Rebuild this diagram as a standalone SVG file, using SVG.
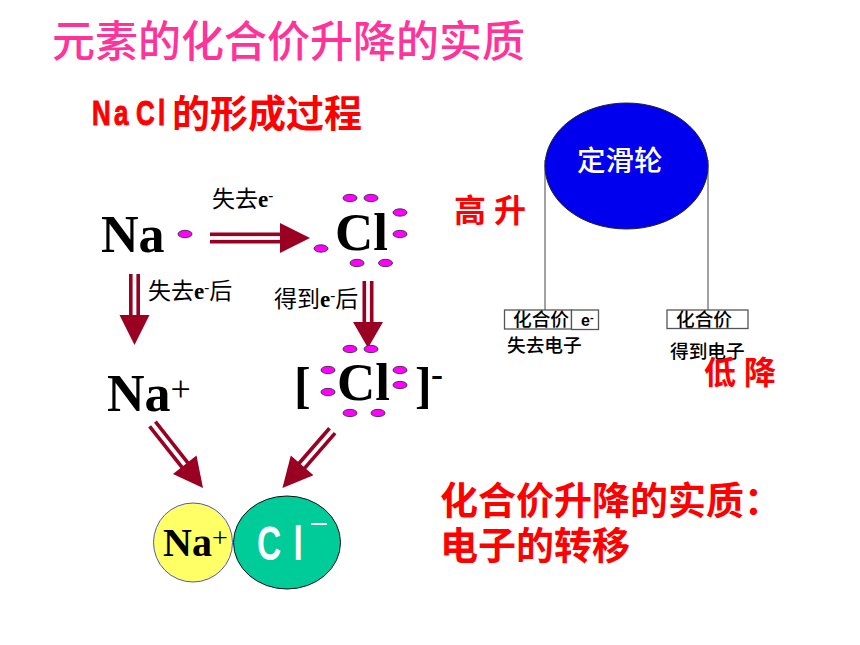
<svg xmlns="http://www.w3.org/2000/svg" width="860" height="645" viewBox="0 0 860 645">
<defs>
<ellipse id="d" rx="7" ry="3.7" fill="#ff00ff" stroke="#222" stroke-width="0.8"/>
</defs>
<style>
.cjk{font-family:"Noto Sans CJK SC","Liberation Sans",sans-serif}
.t{font-family:"Liberation Serif","Noto Sans CJK SC",serif;font-weight:700;fill:#000}
.r{font-family:"Noto Sans CJK SC",sans-serif;font-weight:700;fill:#ff0000}
.s{font-family:"Noto Sans CJK SC",serif;font-size:23px;fill:#000}
.b{font-family:"Noto Sans CJK SC",sans-serif;font-size:18.7px;font-weight:500;fill:#000}
.box{fill:#fff;stroke:#555;stroke-width:1.3}
.l{stroke:#444;stroke-width:1;fill:none}
.a{fill:#990022}
</style>
<rect width="860" height="645" fill="#fff"/>
<text x="52" y="57" class="cjk" font-size="43" font-weight="500" fill="#ff3399">元素的化合价升降的实质</text>
<text transform="translate(92,124.500) scale(0.72,1)" x="0 30.500 61 91.700" font-family="Liberation Sans,sans-serif" font-size="36" font-weight="700" fill="#ff0000" stroke="#ff0000" stroke-width="1">NaCl</text>
<text x="172" y="127" class="r" font-size="38">的形成过程</text>

<g id="connectors">
<g class="a" transform="translate(210,238)"><rect y="-5.500" width="72" height="3.600"/><rect y="1.900" width="72" height="3.600"/><polygon points="70,-15 100,0 70,15"/></g>
<g class="a" transform="translate(134.500,274) rotate(90)"><rect y="-5.500" width="43" height="3.600"/><rect y="1.900" width="43" height="3.600"/><polygon points="41,-15 71,0 41,15"/></g>
<g class="a" transform="translate(368,281) rotate(90)"><rect y="-5.500" width="43" height="3.600"/><rect y="1.900" width="43" height="3.600"/><polygon points="41,-15 67,0 41,15"/></g>
<g class="a" transform="translate(152.500,424) rotate(51.700)"><rect y="-5.500" width="54" height="3.600"/><rect y="1.900" width="54" height="3.600"/><polygon points="52,-15 81.500,0 52,15"/></g>
<g class="a" transform="translate(332.300,430.700) rotate(131)"><rect y="-5.500" width="48" height="3.600"/><rect y="1.900" width="48" height="3.600"/><polygon points="46,-15 76,0 46,15"/></g>
<path class="l" d="M545 160V310M708 160V310"/>
</g>

<g id="na"><text x="101" y="252" class="t" font-size="52">Na</text><use href="#d" x="185" y="234"/></g>
<g id="label-lose"><text x="212" y="207" class="s">失去<tspan class="t" font-size="23">e</tspan><tspan class="t" font-size="15" dy="-7">-</tspan></text></g>
<g id="cl"><text x="335" y="250" class="t" font-size="53">Cl</text>
<use href="#d" x="350" y="198"/><use href="#d" x="371" y="198"/><use href="#d" x="400" y="212.500"/><use href="#d" x="400" y="234"/><use href="#d" x="321" y="248.500"/><use href="#d" x="357" y="263"/><use href="#d" x="385.500" y="263"/></g>
<g id="label-lose2"><text x="148" y="299" class="s">失去<tspan class="t" font-size="23">e</tspan><tspan class="t" font-size="15" dy="-7">-</tspan><tspan dy="7">后</tspan></text></g>
<g id="label-gain"><text x="274" y="307" class="s">得到<tspan class="t" font-size="23">e</tspan><tspan class="t" font-size="15" dy="-7">-</tspan><tspan dy="7">后</tspan></text></g>
<g id="na-plus"><text x="107" y="411" class="t" font-size="52">Na<tspan font-weight="400" font-size="36" dy="-10">+</tspan></text></g>
<g id="cl-minus"><text x="294" y="402" class="t" font-size="50">[</text><text x="337" y="400" class="t" font-size="53">Cl</text><text x="415" y="402" class="t" font-size="50">]</text><text x="431" y="386" class="t" font-size="36">-</text>
<use href="#d" x="350" y="349"/><use href="#d" x="371" y="349"/><use href="#d" x="328" y="370"/><use href="#d" x="328" y="392"/><use href="#d" x="400" y="370"/><use href="#d" x="400" y="385"/><use href="#d" x="350" y="413"/><use href="#d" x="378" y="413"/></g>
<g id="ion-na"><circle cx="193" cy="542.500" r="39.500" fill="#ffff66" stroke="#5555bb" stroke-width="1"/><text x="163" y="556" class="t" font-size="40">Na<tspan font-weight="400" font-size="28" dy="-9">+</tspan></text></g>
<g id="ion-cl"><ellipse cx="287" cy="542.500" rx="53.500" ry="46.500" fill="#00cc99" stroke="#111" stroke-width="1"/><text transform="translate(257,560) scale(0.7,1)" x="0 52" font-family="Liberation Sans,sans-serif" font-size="48" font-weight="700" fill="#fff">Cl</text><rect x="311" y="523" width="16" height="2" fill="#fff"/></g>

<g id="pulley"><ellipse cx="626.500" cy="166" rx="81.500" ry="63" fill="#0000ee" stroke="#222" stroke-width="1"/><text x="577" y="171" class="cjk" font-size="28.500" font-weight="500" fill="#fff">定滑轮</text></g>
<g id="box-left"><rect class="box" x="504.500" y="310" width="67" height="19"/><rect class="box" x="571.500" y="310" width="27" height="19.500"/><text x="513" y="326" class="b">化合价</text><text x="581" y="326" font-family="Liberation Sans,sans-serif" font-size="16" font-weight="700">e<tspan font-size="11" dy="-5">-</tspan></text></g>
<g id="box-right"><rect class="box" x="667" y="310" width="81" height="18.500"/><text x="676" y="326" class="b">化合价</text></g>
<text x="507" y="352" class="b">失去电子</text>
<text x="670" y="358" class="b">得到电子</text>
<text x="454" y="222" class="r" font-size="32" letter-spacing="8">高升</text>
<text x="704" y="384" class="r" font-size="32" letter-spacing="8">低降</text>
<text x="440" y="514" class="r" font-size="38">化合价升降的实质：</text>
<text x="440" y="559" class="r" font-size="38">电子的转移</text>
</svg>
